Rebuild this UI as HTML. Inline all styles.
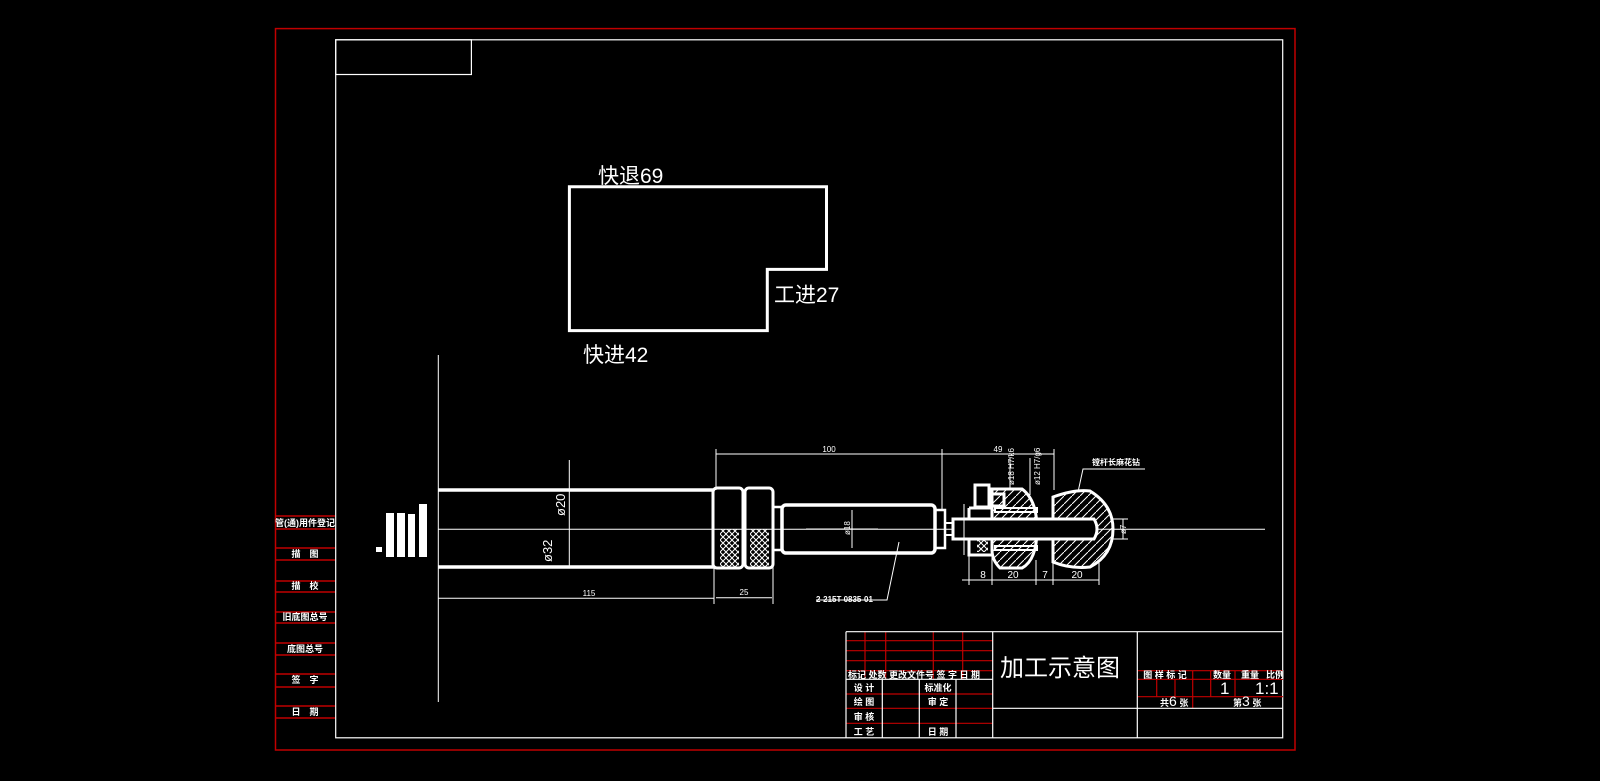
<!DOCTYPE html>
<html><head><meta charset="utf-8"><style>
html,body{margin:0;padding:0;background:#000;}
svg{display:block;}
text{font-family:"Liberation Sans","Noto Sans CJK SC",sans-serif;fill:#fff;}
</style></head><body>
<svg width="1600" height="781" viewBox="0 0 1600 781" xmlns="http://www.w3.org/2000/svg">
<defs>
<pattern id="hat" width="8" height="8" patternUnits="userSpaceOnUse"><path d="M0 8L8 0" stroke="#fff" stroke-width="1"/></pattern>
<pattern id="xh" width="6" height="6" patternUnits="userSpaceOnUse"><path d="M0 6L6 0M0 0L6 6" stroke="#fff" stroke-width="1"/></pattern>
</defs>
<rect x="275.5" y="28.6" width="1019.5" height="721.4" fill="none" stroke="#c00000" stroke-width="1.5"/>
<rect x="335.7" y="39.8" width="947" height="698" fill="none" stroke="#fff" stroke-width="1.2"/>
<rect x="335.7" y="39.8" width="135.7" height="34.7" fill="none" stroke="#fff" stroke-width="1.2"/>
<g stroke="#c00000" stroke-width="1.5">
<line x1="276" y1="516" x2="335" y2="516"/><line x1="276" y1="529" x2="335" y2="529"/>
<line x1="276" y1="548" x2="335" y2="548"/><line x1="276" y1="560" x2="335" y2="560"/>
<line x1="276" y1="581" x2="335" y2="581"/><line x1="276" y1="592" x2="335" y2="592"/>
<line x1="276" y1="612" x2="335" y2="612"/><line x1="276" y1="623" x2="335" y2="623"/>
<line x1="276" y1="643" x2="335" y2="643"/><line x1="276" y1="655" x2="335" y2="655"/>
<line x1="276" y1="674" x2="335" y2="674"/><line x1="276" y1="687" x2="335" y2="687"/>
<line x1="276" y1="706" x2="335" y2="706"/><line x1="276" y1="718" x2="335" y2="718"/>
</g>
<g font-size="9" font-weight="bold" text-anchor="middle">
<text x="305" y="526">管(通)用件登记</text><text x="305" y="557">描　图</text>
<text x="305" y="589">描　校</text><text x="305" y="620">旧底图总号</text>
<text x="305" y="652">底图总号</text><text x="305" y="683">签　字</text><text x="305" y="715">日　期</text>
</g>
<g fill="#fff">
<rect x="386" y="513" width="8" height="44"/><rect x="397" y="513" width="8" height="44"/>
<rect x="408" y="514" width="7" height="43"/><rect x="419" y="504" width="8" height="53"/>
<rect x="376" y="547" width="6" height="5"/>
</g>
<path d="M569.4 186.7H826.5V269.4H767.3V330.6H569.4Z" fill="none" stroke="#fff" stroke-width="3"/>
<g font-size="21"><text x="598" y="183">快退69</text><text x="774" y="302">工进27</text><text x="583" y="362">快进42</text></g>
<g stroke="#fff" fill="none">
<line x1="438.3" y1="355" x2="438.3" y2="702" stroke-width="1"/>
<line x1="438" y1="490" x2="714" y2="490" stroke-width="3.5"/>
<line x1="438" y1="567" x2="714" y2="567" stroke-width="3.5"/>
<line x1="438" y1="529.3" x2="1265" y2="529.3" stroke-width="1"/>
<line x1="569.3" y1="460" x2="569.3" y2="567" stroke-width="1"/>
<line x1="438" y1="598.3" x2="714" y2="598.3" stroke-width="1"/>
<line x1="714" y1="567" x2="714" y2="604" stroke-width="1"/>
<rect x="713" y="488" width="30" height="80" rx="4" stroke-width="3"/>
<rect x="745" y="488" width="28" height="80" rx="4" stroke-width="3"/>
<rect x="720" y="529" width="19" height="38" fill="url(#xh)" stroke="none"/>
<rect x="750" y="529" width="19" height="38" fill="url(#xh)" stroke="none"/>
<rect x="773" y="507" width="9" height="43" stroke-width="2.5"/>
<rect x="782" y="505" width="153" height="48" rx="4" stroke-width="3.5"/>
<rect x="935" y="510" width="10" height="38" stroke-width="2.5"/>
<rect x="945" y="523" width="8" height="12" stroke-width="2"/>
<line x1="773" y1="548" x2="773" y2="604" stroke-width="1"/>
<line x1="716" y1="597.7" x2="772" y2="597.7" stroke-width="1"/>
<line x1="716" y1="449" x2="716" y2="490" stroke-width="1"/>
<line x1="942" y1="449" x2="942" y2="510" stroke-width="1"/>
<line x1="1054" y1="449" x2="1054" y2="490" stroke-width="1"/>
<line x1="716" y1="454" x2="942" y2="454" stroke-width="1"/>
<line x1="942" y1="454" x2="1054" y2="454" stroke-width="1"/>
<line x1="852" y1="510" x2="852" y2="548" stroke-width="1"/>
<line x1="806" y1="529" x2="878" y2="529" stroke-width="1"/>
<polyline points="899,542 887,600 816,600" stroke-width="1"/>
<path d="M992 489H1022Q1037 500 1037 529Q1037 560 1022 568H1000Q992 560 992 550Z" fill="url(#hat)" stroke-width="3"/>
<path d="M1053 497Q1075 489 1090 491Q1113 505 1113 529Q1113 555 1090 567Q1070 569 1053 562Z" fill="url(#hat)" stroke-width="3"/>
<path d="M953 519H1094Q1100 529 1094 539H953Z" fill="#000" stroke-width="3"/>
<rect x="975" y="485" width="14" height="22" stroke-width="3"/>
<rect x="990" y="494" width="14" height="12" stroke-width="3"/>
<path d="M969 508H992V519M969 508V519M969 539V555H992" stroke-width="3"/>
<rect x="977" y="539" width="11" height="13" fill="url(#xh)" stroke="none"/>
<rect x="995" y="508" width="42" height="4" stroke-width="2"/>
<rect x="995" y="546" width="42" height="4" stroke-width="2"/>
<line x1="964" y1="504" x2="964" y2="555" stroke-width="1"/>
<g stroke-width="1">
<line x1="962" y1="580" x2="1099" y2="580"/>
<line x1="969" y1="555" x2="969" y2="585"/><line x1="992" y1="555" x2="992" y2="585"/>
<line x1="1036" y1="560" x2="1036" y2="585"/><line x1="1053" y1="560" x2="1053" y2="585"/>
<line x1="1099" y1="560" x2="1099" y2="585"/>
<line x1="1123" y1="519" x2="1123" y2="539"/><line x1="1113" y1="519" x2="1128" y2="519"/><line x1="1113" y1="539" x2="1128" y2="539"/>
<polyline points="1078,492 1083,469 1145,469"/>
<line x1="1010" y1="458" x2="1010" y2="489"/><line x1="1030" y1="458" x2="1030" y2="495"/>
</g>
</g>
<g font-size="8">
<text x="829" y="452" text-anchor="middle">100</text>
<text x="998" y="452" text-anchor="middle">49</text>
<text x="744" y="595" text-anchor="middle">25</text>
<text x="589" y="596" text-anchor="middle">115</text>
<text x="816" y="602" font-weight="bold">2-215T 0835-01</text>
<text x="1092" y="465" font-weight="bold">镗杆长麻花钻</text>
<text x="983" y="578" text-anchor="middle" font-size="10">8</text>
<text x="1013" y="578" text-anchor="middle" font-size="10">20</text>
<text x="1045" y="578" text-anchor="middle" font-size="10">7</text>
<text x="1077" y="578" text-anchor="middle" font-size="10">20</text>
<text transform="translate(850,535) rotate(-90)">ø18</text>
<text transform="translate(1014,485) rotate(-90)">ø18 H7/k6</text>
<text transform="translate(1040,485) rotate(-90)">ø12 H7/g6</text>
<text transform="translate(1126,534) rotate(-90)">ø7</text>
</g>
<text transform="translate(565,516) rotate(-90)" font-size="13">ø20</text>
<text transform="translate(552,562) rotate(-90)" font-size="13">ø32</text>
<g stroke="#c00000" stroke-width="1.2">
<line x1="846" y1="640.7" x2="992.7" y2="640.7"/><line x1="846" y1="650.7" x2="992.7" y2="650.7"/>
<line x1="846" y1="660.7" x2="992.7" y2="660.7"/><line x1="846" y1="670.7" x2="992.7" y2="670.7"/>
<line x1="865" y1="631.7" x2="865" y2="679.3"/><line x1="885.7" y1="631.7" x2="885.7" y2="679.3"/>
<line x1="933.3" y1="631.7" x2="933.3" y2="679.3"/><line x1="962.7" y1="631.7" x2="962.7" y2="679.3"/>
<line x1="846" y1="694" x2="992.7" y2="694"/><line x1="846" y1="708.3" x2="992.7" y2="708.3"/>
<line x1="846" y1="723.3" x2="992.7" y2="723.3"/>
<line x1="1137.3" y1="670.7" x2="1283" y2="670.7"/><line x1="1137.3" y1="679.3" x2="1283" y2="679.3"/>
<line x1="1137.3" y1="696.7" x2="1283" y2="696.7"/>
<line x1="1156.7" y1="679.3" x2="1156.7" y2="696.7"/><line x1="1175" y1="679.3" x2="1175" y2="696.7"/>
<line x1="1192.7" y1="670.7" x2="1192.7" y2="708.3"/><line x1="1210.7" y1="670.7" x2="1210.7" y2="696.7"/>
<line x1="1235" y1="670.7" x2="1235" y2="696.7"/>
</g>
<g stroke="#fff" stroke-width="1.2">
<line x1="846" y1="631.7" x2="1283" y2="631.7"/>
<line x1="846" y1="631.7" x2="846" y2="738"/>
<line x1="992.7" y1="631.7" x2="992.7" y2="738"/>
<line x1="1137.3" y1="631.7" x2="1137.3" y2="738"/>
<line x1="992.7" y1="708.3" x2="1283" y2="708.3"/>
<line x1="846" y1="679.3" x2="992.7" y2="679.3"/>
<line x1="882.3" y1="679.3" x2="882.3" y2="738"/><line x1="919.3" y1="679.3" x2="919.3" y2="738"/>
<line x1="956" y1="679.3" x2="956" y2="738"/>
</g>
<g font-size="9" font-weight="bold">
<text x="848" y="678">标记 处数  更改文件号 签 字  日 期</text>
<g text-anchor="middle">
<text x="864" y="691">设 计</text><text x="864" y="705">绘 图</text><text x="864" y="720">审 核</text><text x="864" y="735">工 艺</text>
<text x="938" y="691">标准化</text><text x="938" y="705">审 定</text><text x="938" y="735">日 期</text>
<text x="1165" y="678">图 样 标 记</text><text x="1222" y="678">数量</text><text x="1250" y="678">重量</text><text x="1275" y="678">比例</text>
</g>
<text x="1160" y="706">共<tspan font-size="14" font-weight="normal">6</tspan>  张</text>
<text x="1233" y="706">第<tspan font-size="14" font-weight="normal">3</tspan>  张</text>
</g>
<text x="1220" y="694" font-size="17" font-family="Liberation Serif">1</text>
<text x="1255" y="694" font-size="17" font-family="Liberation Serif">1:1</text>
<text x="1000" y="676" font-size="24">加工示意图</text>
</svg>
</body></html>
